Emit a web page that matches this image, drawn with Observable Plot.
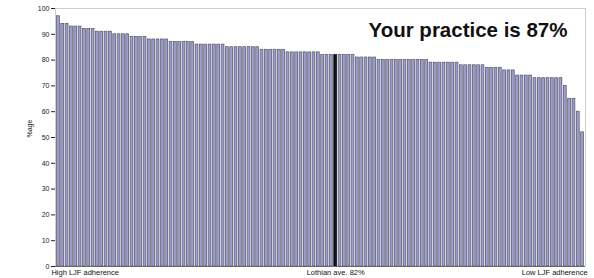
<!DOCTYPE html>
<html><head><meta charset="utf-8">
<script src="https://cdn.jsdelivr.net/npm/d3@7"></script>
<script src="https://cdn.jsdelivr.net/npm/@observablehq/plot@0.6"></script>
<style>body{margin:0;background:#fff} svg{display:block}</style>
</head><body><div id="chart"></div>
<script>
const values = [97,94,94,93,93,93,92,92,92,91,91,91,91,90,90,90,90,89,89,89,89,
88,88,88,88,88,87,87,87,87,87,87,86,86,86,86,86,86,86,85,85,85,85,85,85,85,85,
84,84,84,84,84,84,83,83,83,83,83,83,83,83,82,82,82,82,82,82,82,82,81,81,81,81,81,
80,80,80,80,80,80,80,80,80,80,80,80,79,79,79,79,79,79,79,78,78,78,78,78,78,
77,77,77,77,76,76,76,74,74,74,74,73,73,73,73,73,73,73,70,65,65,60,52];
const ranks = values.map((_, i) => i + 1);
const aveRank = 65;
const yTicks = [0,10,20,30,40,50,60,70,80,90,100];
const yLabel = "%age";
const title = "Your practice is 87%";
const bottomLabels = ["High LJF adherence", "Lothian ave. 82%", "Low LJF adherence"];
const labelRanks = [1, 65, 122];

const data = ranks.map((r, i) => ({rank: r, value: values[i], ave: r === aveRank}));
const lbl = labelRanks.map((r, i) => ({rank: r, text: bottomLabels[i]}));

const chart = Plot.plot({
  width: 594, height: 278,
  marginLeft: 55, marginRight: 9, marginTop: 8, marginBottom: 12,
  style: {fontFamily: "Liberation Sans, Arial, sans-serif", fontSize: "7px", background: "#fff", color: "#222"},
  x: {type: "band", domain: ranks, padding: 0.34, axis: null},
  y: {domain: [0, 100], ticks: yTicks, label: null, tickSize: 4, tickPadding: 2, line: true},
  marks: [
    Plot.frame({stroke: "#cfcfcf"}),
    Plot.barY(data, {x: "rank", y: "value", fill: d => d.ave ? "#111" : "#9d9dd3", stroke: d => d.ave ? "#111" : "#55555f", strokeWidth: 0.7}),
    Plot.ruleY([0], {stroke: "#666"}),
    Plot.text([yLabel], {frameAnchor: "left", dx: -26, rotate: -90, fontSize: 7, fill: "#222"}),
    Plot.text([title], {frameAnchor: "top-right", dx: -18, dy: 22, lineAnchor: "middle", fontSize: 20.5, fontWeight: "bold", fill: "#111"}),
    Plot.text([lbl[0]], {x: "rank", y: () => 0, text: "text", textAnchor: "start", dx: -7, dy: 6, lineAnchor: "middle", fontSize: 7.5, fill: "#111"}),
    Plot.text([lbl[1]], {x: "rank", y: () => 0, text: "text", textAnchor: "middle", dy: 6, lineAnchor: "middle", fontSize: 7.5, fill: "#111"}),
    Plot.text([lbl[2]], {x: "rank", y: () => 0, text: "text", textAnchor: "end", dx: 5, dy: 6, lineAnchor: "middle", fontSize: 7.5, fill: "#111"})
  ]
});
document.getElementById("chart").append(chart);
</script>
</body></html>
